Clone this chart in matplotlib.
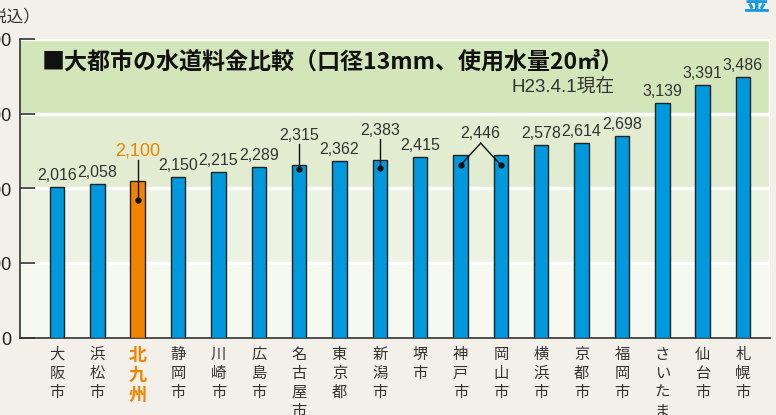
import matplotlib.pyplot as plt

plt.rcParams['font.family'] = ['Noto Sans CJK JP', 'DejaVu Sans']
num_font = ['Liberation Sans', 'Noto Sans CJK JP']

# データ（H23.4.1現在）
cities = ['大阪市', '浜松市', '北九州', '静岡市', '川崎市', '広島市', '名古屋市', '東京都', '新潟市',
          '堺市', '神戸市', '岡山市', '横浜市', '京都市', '福岡市', 'さいたま市', '仙台市', '札幌市']
charges = [2016, 2058, 2100, 2150, 2215, 2289, 2315, 2362, 2383,
           2415, 2446, 2446, 2578, 2614, 2698, 3139, 3391, 3486]
yticks = [0, 1000, 2000, 3000, 4000]
highlight = '北九州'

W, H = 776, 415
fig = plt.figure(figsize=(W / 100, H / 100), dpi=100)
fig.patch.set_facecolor('#f2f0e9')

# 軸の位置 (px)
left, right, bottom, top = 20, 770, 338, 39
ax = fig.add_axes([left / W, (H - bottom) / H, (right - left) / W, (bottom - top) / H])
ax.set_facecolor('none')

step = 40.35
ax.set_xlim(-(57 - left) / step, len(cities) - 1 + (right - 743) / step)
ax.set_ylim(0, 4000)
px = 4000 / (bottom - top)  # 1px in data units

# 背景の帯
bands = ['#f6f9ef', '#edf3e2', '#e2ecd1', '#d3e6b9']
for i, c in enumerate(bands):
    ax.axhspan(yticks[i], yticks[i + 1], color=c, zorder=0, lw=0)
for y in yticks[1:]:
    ax.axhline(y, color='white', lw=2.5, zorder=1)
ax.axvline(ax.get_xlim()[1], color='white', lw=2.5, zorder=1)

x = list(range(len(cities)))
colors = ['#f08300' if c == highlight else '#0099dd' for c in cities]
ax.bar(x, charges, width=0.36, color=colors, edgecolor='#222222', linewidth=1, zorder=3)

for spine in ['top', 'right']:
    ax.spines[spine].set_visible(False)
ax.spines['left'].set_color('#333333')
ax.spines['bottom'].set_color('#333333')
ax.spines['left'].set_linewidth(1.2)
ax.spines['bottom'].set_linewidth(1.2)

ax.set_yticks(yticks)
ax.set_yticklabels([f'{v:,}' for v in yticks], fontsize=13, color='#222222', family=num_font)
ax.tick_params(axis='y', direction='in', length=11, width=1.2, color='#333333', pad=6)
ax.set_xticks([])

# 値ラベル
leader = {2: 19, 6: 4, 8: 8}
for i, (c, v) in enumerate(zip(cities, charges)):
    if i in (10, 11):
        continue
    label = f'{v:,}'
    if i in leader:
        tx = v + 22 * px
        if c == highlight:
            ax.text(i, tx, label, ha='center', va='bottom', fontsize=13, color='#f08300',
                    family=num_font, zorder=5)
        else:
            ax.text(i, tx, label, ha='center', va='bottom', fontsize=11.5, color='#333333',
                    family=num_font, zorder=5)
        dy = v - leader[i] * px
        ax.plot([i, i], [tx - 1 * px, dy], color='#111111', lw=1, zorder=4)
        ax.plot(i, dy, 'o', color='#111111', ms=3.5, zorder=5)
    else:
        ax.text(i, v + 4 * px, label, ha='center', va='bottom', fontsize=11.5, color='#333333',
                family=num_font, zorder=5)

# 神戸市・岡山市（同額）
v = charges[10]
apex = v + 12 * px
ax.text(10.5, apex + 2 * px, f'{v:,}', ha='center', va='bottom', fontsize=11.5, color='#333333',
        family=num_font, zorder=5)
for i in (10, 11):
    dy = v - 10 * px
    ax.plot([10.5, i], [apex, dy], color='#111111', lw=1, zorder=4)
    ax.plot(i, dy, 'o', color='#111111', ms=3.5, zorder=5)

# 都市名（縦書き）
for i, c in enumerate(cities):
    if c == highlight:
        ax.text(i, -8 * px, '\n'.join(c), ha='center', va='top', fontsize=13,
                color='#f08300', fontweight='bold', linespacing=1.05, zorder=5)
    else:
        ax.text(i, -8 * px, '\n'.join(c), ha='center', va='top', fontsize=11,
                color='#333333', linespacing=1.15, zorder=5)

# タイトル
fig.text(42 / W, 1 - 62 / H, '■大都市の水道料金比較（口径13mm、使用水量20㎥）',
         fontsize=16.6, fontweight='bold', color='#111111', ha='left', va='center')
fig.text(615 / W, 1 - 88 / H, 'H23.4.1現在', fontsize=13.5, color='#333333', ha='right', va='center',
         family=num_font)

fig.text(40 / W, 1 - 17 / H, '（円・税込）', fontsize=12, color='#333333', ha='right', va='center')
fig.text(756 / W, 1 - 10 / H, '金', fontsize=20, fontweight='bold', color='#1a9be0', ha='center', va='baseline')

fig.savefig('out.png', dpi=100, facecolor=fig.get_facecolor())
